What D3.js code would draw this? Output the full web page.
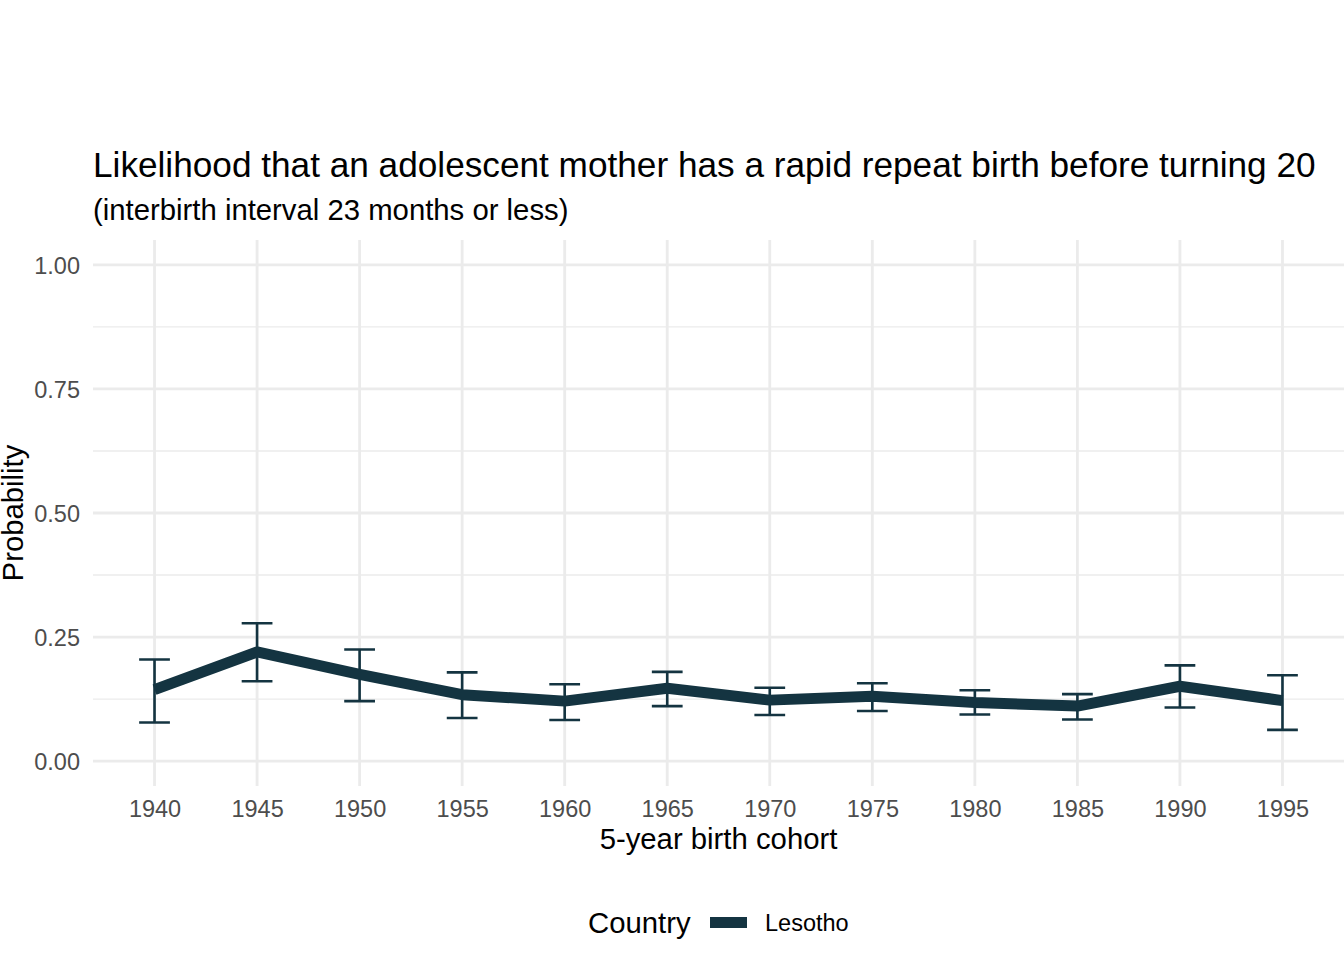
<!DOCTYPE html>
<html>
<head>
<meta charset="utf-8">
<script src="https://cdn.jsdelivr.net/npm/d3@7/dist/d3.min.js"></script>
<style>
  html, body { margin: 0; padding: 0; background: #ffffff; }
  svg { display: block; font-family: "Liberation Sans", Arial, Helvetica, sans-serif; }
</style>
</head>
<body>
<svg id="chart" width="1344" height="960"></svg>
<script>
// ---- data ----
const cohorts = [1940, 1945, 1950, 1955, 1960, 1965, 1970, 1975, 1980, 1985, 1990, 1995];
const probability = [0.144, 0.220, 0.175, 0.134, 0.121, 0.147, 0.123, 0.131, 0.118, 0.111, 0.151, 0.122];
const lower = [0.078, 0.161, 0.121, 0.087, 0.083, 0.111, 0.093, 0.101, 0.094, 0.084, 0.108, 0.063];
const upper = [0.205, 0.278, 0.225, 0.179, 0.155, 0.180, 0.148, 0.157, 0.143, 0.135, 0.193, 0.173];
const yMajorTicks = [0, 0.25, 0.5, 0.75, 1.0];
const yMinorTicks = [0.125, 0.375, 0.625, 0.875];
const countryName = "Lesotho";

const titleText = "Likelihood that an adolescent mother has a rapid repeat birth before turning 20";
const subtitleText = "(interbirth interval 23 months or less)";
const xTitle = "5-year birth cohort";
const yTitle = "Probability";
const legendTitle = "Country";

// ---- layout ----
const panel = { left: 93, right: 1344, top: 240, bottom: 786 };
const lineColor = "#143441";
const gridColor = "#ebebeb";

const svg = d3.select("#chart");

const x = d3.scalePoint()
  .domain(cohorts.map(String))
  .range([panel.left, panel.right])
  .padding(0.6);

const y = d3.scaleLinear()
  .domain([-0.05, 1.05])
  .range([panel.bottom, panel.top]);

const data = cohorts.map((c, i) => ({ c: String(c), p: probability[i], lo: lower[i], hi: upper[i] }));

// ---- grid ----
const grid = svg.append("g");
grid.selectAll("line.minor").data(yMinorTicks).join("line")
  .attr("x1", panel.left).attr("x2", panel.right)
  .attr("y1", d => y(d)).attr("y2", d => y(d))
  .attr("stroke", gridColor).attr("stroke-width", 1.42);
grid.selectAll("line.majy").data(yMajorTicks).join("line")
  .attr("x1", panel.left).attr("x2", panel.right)
  .attr("y1", d => y(d)).attr("y2", d => y(d))
  .attr("stroke", gridColor).attr("stroke-width", 2.83);
grid.selectAll("line.majx").data(cohorts.map(String)).join("line")
  .attr("x1", d => x(d)).attr("x2", d => x(d))
  .attr("y1", panel.top).attr("y2", panel.bottom)
  .attr("stroke", gridColor).attr("stroke-width", 2.83);

// ---- axes ----
const xAxis = svg.append("g")
  .attr("transform", `translate(0,${panel.bottom})`)
  .call(d3.axisBottom(x).tickSize(0).tickPadding(0));
xAxis.select(".domain").remove();
xAxis.selectAll("text")
  .attr("y", 31).attr("dy", null)
  .attr("fill", "#4d4d4d")
  .style("font-size", "23.5px")
  .style("font-family", "Liberation Sans, Arial, sans-serif");

const yAxis = svg.append("g")
  .attr("transform", `translate(${panel.left},0)`)
  .call(d3.axisLeft(y).tickValues(yMajorTicks).tickFormat(d3.format(".2f")).tickSize(0).tickPadding(0));
yAxis.select(".domain").remove();
yAxis.selectAll("text")
  .attr("x", -13).attr("dy", "0.35em")
  .attr("fill", "#4d4d4d")
  .style("font-size", "23.5px")
  .style("font-family", "Liberation Sans, Arial, sans-serif");

// ---- error bars ----
const capHalf = x.step() * 0.15;
const eb = svg.append("g").attr("stroke", lineColor).attr("stroke-width", 2.6).attr("fill", "none");
eb.selectAll("path").data(data).join("path")
  .attr("d", d => {
    const cx = x(d.c), yl = y(d.lo), yh = y(d.hi);
    return `M${cx - capHalf},${yh}H${cx + capHalf}M${cx},${yh}V${yl}M${cx - capHalf},${yl}H${cx + capHalf}`;
  });

// ---- line ----
const line = d3.line().x(d => x(d.c)).y(d => y(d.p));
svg.append("path").datum(data)
  .attr("d", line)
  .attr("fill", "none")
  .attr("stroke", lineColor)
  .attr("stroke-width", 11)
  .attr("stroke-linejoin", "round")
  .attr("stroke-linecap", "butt");

// ---- titles ----
svg.append("text").attr("x", panel.left).attr("y", 177)
  .attr("font-size", 35.2).attr("fill", "#000").text(titleText);
svg.append("text").attr("x", panel.left).attr("y", 220)
  .attr("font-size", 29.3).attr("fill", "#000").text(subtitleText);
svg.append("text").attr("x", (panel.left + panel.right) / 2).attr("y", 849)
  .attr("text-anchor", "middle").attr("font-size", 29.3).attr("fill", "#000").text(xTitle);
svg.append("text")
  .attr("transform", `translate(23,${(panel.top + panel.bottom) / 2}) rotate(-90)`)
  .attr("text-anchor", "middle").attr("font-size", 29.3).attr("fill", "#000").text(yTitle);

// ---- legend ----
const lg = svg.append("g");
lg.append("text").attr("x", 588).attr("y", 933).attr("font-size", 29.3).attr("fill", "#000").text(legendTitle);
lg.append("line").attr("x1", 710).attr("x2", 747).attr("y1", 922.5).attr("y2", 922.5)
  .attr("stroke", lineColor).attr("stroke-width", 11);
lg.append("text").attr("x", 765).attr("y", 931).attr("font-size", 23.5).attr("fill", "#000").text(countryName);
</script>
</body>
</html>
